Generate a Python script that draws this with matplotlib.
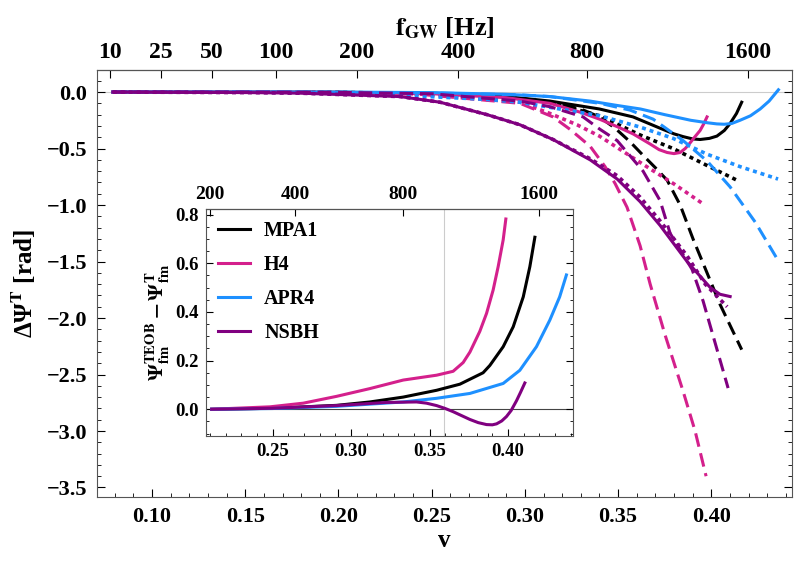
import numpy as np
import matplotlib
matplotlib.use('Agg')
import matplotlib.pyplot as plt
from matplotlib.ticker import MultipleLocator, NullLocator

plt.rcParams['font.family'] = ['Liberation Serif', 'DejaVu Serif']
plt.rcParams['font.weight'] = 'bold'
plt.rcParams['axes.labelweight'] = 'bold'
plt.rcParams['mathtext.fontset'] = 'stix'
plt.rcParams['mathtext.default'] = 'bf'

# colours per EOS
c_mpa1 = '#000000'
c_h4 = '#d4208c'
c_apr4 = '#1e90ff'
c_nsbh = '#800080'

# main panel: Delta Psi^T vs v (solid / dashed / dotted for each EOS)
mpa1_solid_v = [0.079, 0.15, 0.20, 0.25, 0.29, 0.3135, 0.340, 0.358, 0.3725, 0.380, 0.385, 0.390, 0.394, 0.399, 0.403, 0.407, 0.410, 0.4135, 0.4163]
mpa1_solid_d = [0, 0, -0.002, -0.01, -0.04, -0.08, -0.15, -0.22, -0.32, -0.37, -0.395, -0.415, -0.42, -0.41, -0.39, -0.34, -0.28, -0.19, -0.09]
mpa1_dot_v = [0.079, 0.15, 0.20, 0.25, 0.2974, 0.3135, 0.340, 0.3618, 0.3795, 0.3977, 0.4137]
mpa1_dot_d = [0, 0, -0.003, -0.015, -0.06, -0.09, -0.21, -0.38, -0.50, -0.65, -0.78]
mpa1_dash_v = [0.079, 0.15, 0.20, 0.25, 0.2974, 0.3135, 0.330, 0.340, 0.3484, 0.3564, 0.3634, 0.370, 0.3763, 0.3833, 0.3902, 0.3977, 0.4047, 0.4163]
mpa1_dash_d = [0, 0, -0.003, -0.015, -0.06, -0.09, -0.15, -0.22, -0.32, -0.44, -0.56, -0.67, -0.78, -1.0, -1.3, -1.6, -1.88, -2.28]

h4_solid_v = [0.079, 0.15, 0.20, 0.25, 0.29, 0.3135, 0.330, 0.340, 0.350, 0.358, 0.3672, 0.372, 0.3763, 0.380, 0.3833, 0.386, 0.3886, 0.391, 0.394, 0.396, 0.3977]
h4_solid_d = [0, 0, -0.003, -0.015, -0.05, -0.10, -0.18, -0.24, -0.31, -0.37, -0.46, -0.51, -0.535, -0.545, -0.535, -0.50, -0.45, -0.40, -0.34, -0.28, -0.22]
h4_dot_v = [0.079, 0.15, 0.20, 0.2438, 0.2974, 0.3135, 0.328, 0.340, 0.3672, 0.3806, 0.3956]
h4_dot_d = [0, 0, -0.005, -0.02, -0.09, -0.19, -0.29, -0.39, -0.68, -0.82, -0.99]
h4_dash_v = [0.079, 0.15, 0.20, 0.2438, 0.2974, 0.3151, 0.3242, 0.335, 0.343, 0.3484, 0.3548, 0.3618, 0.3672, 0.3752, 0.3849, 0.3913, 0.3972]
h4_dash_d = [0, 0, -0.005, -0.02, -0.10, -0.22, -0.33, -0.48, -0.66, -0.81, -1.02, -1.36, -1.70, -2.15, -2.65, -3.0, -3.40]

apr4_solid_v = [0.079, 0.20, 0.25, 0.29, 0.3135, 0.335, 0.35, 0.362, 0.375, 0.389, 0.398, 0.403, 0.407, 0.411, 0.4154, 0.421, 0.4262, 0.431, 0.436]
apr4_solid_d = [0, 0, -0.005, -0.02, -0.04, -0.08, -0.12, -0.15, -0.20, -0.25, -0.272, -0.282, -0.285, -0.278, -0.25, -0.21, -0.15, -0.08, 0.02]
apr4_dash_v = [0.079, 0.15, 0.20, 0.25, 0.2974, 0.3135, 0.3403, 0.3564, 0.3688, 0.3849, 0.3977, 0.4101, 0.4235, 0.4358]
apr4_dash_d = [0, 0, -0.002, -0.008, -0.025, -0.04, -0.10, -0.16, -0.24, -0.43, -0.61, -0.84, -1.15, -1.49]
apr4_dot_v = [0.079, 0.15, 0.2062, 0.233, 0.2545, 0.2797, 0.2974, 0.3151, 0.3403, 0.3618, 0.3795, 0.3977, 0.4154, 0.4358]
apr4_dot_d = [0, 0, -0.01, -0.027, -0.045, -0.065, -0.09, -0.14, -0.21, -0.31, -0.41, -0.55, -0.66, -0.77]

nsbh_solid_v = [0.079, 0.1526, 0.1794, 0.2062, 0.233, 0.2438, 0.2545, 0.2797, 0.2974, 0.3151, 0.335, 0.3495, 0.3618, 0.3725, 0.387, 0.3994, 0.4047, 0.4101]
nsbh_solid_d = [0, -0.005, -0.01, -0.025, -0.04, -0.065, -0.09, -0.20, -0.29, -0.42, -0.60, -0.77, -0.97, -1.18, -1.50, -1.73, -1.79, -1.81]
nsbh_dot_v = [0.079, 0.1526, 0.1794, 0.2062, 0.233, 0.2438, 0.2545, 0.2797, 0.2974, 0.3151, 0.335, 0.3495, 0.3618, 0.3725, 0.387, 0.3967, 0.4085]
nsbh_dot_d = [0, -0.005, -0.01, -0.025, -0.04, -0.065, -0.09, -0.20, -0.29, -0.42, -0.59, -0.74, -0.93, -1.14, -1.45, -1.70, -1.90]
nsbh_dash_v = [0.079, 0.15, 0.20, 0.25, 0.2974, 0.3135, 0.3312, 0.3403, 0.3495, 0.3634, 0.3725, 0.3779, 0.3897, 0.3956, 0.409]
nsbh_dash_d = [0, 0, -0.003, -0.015, -0.08, -0.13, -0.22, -0.33, -0.43, -0.70, -0.96, -1.25, -1.57, -1.85, -2.62]

# inset: Psi_fm^TEOB - Psi_fm^T
in_mpa1_v = [0.2111, 0.25, 0.2907, 0.312, 0.3332, 0.3545, 0.3693, 0.3841, 0.3884, 0.3969, 0.4033, 0.4097, 0.4139, 0.4171]
in_mpa1_d = [0, 0.004, 0.016, 0.03, 0.05, 0.078, 0.103, 0.15, 0.18, 0.257, 0.339, 0.462, 0.586, 0.707]
in_h4_v = [0.2111, 0.2483, 0.2695, 0.2907, 0.312, 0.3332, 0.3545, 0.365, 0.3714, 0.3757, 0.382, 0.3863, 0.3905, 0.3937, 0.3969, 0.3986]
in_h4_d = [0, 0.01, 0.025, 0.053, 0.085, 0.12, 0.14, 0.156, 0.192, 0.235, 0.32, 0.394, 0.49, 0.586, 0.696, 0.782]
in_apr4_v = [0.2111, 0.25, 0.2907, 0.3332, 0.3545, 0.3757, 0.3969, 0.4075, 0.4181, 0.4266, 0.4329, 0.4372]
in_apr4_d = [0, 0.003, 0.012, 0.03, 0.045, 0.065, 0.106, 0.16, 0.257, 0.366, 0.462, 0.552]
in_nsbh_v = [0.2111, 0.25, 0.2907, 0.3226, 0.3417, 0.348, 0.3545, 0.360, 0.365, 0.370, 0.3757, 0.381, 0.3863, 0.390, 0.3927, 0.396, 0.399, 0.402, 0.4054, 0.408, 0.4107]
in_nsbh_d = [0, 0.004, 0.015, 0.028, 0.03, 0.025, 0.015, 0.003, -0.01, -0.025, -0.042, -0.055, -0.063, -0.064, -0.06, -0.048, -0.03, -0.005, 0.035, 0.07, 0.108]

freq_ticks_main = [10, 25, 50, 100, 200, 400, 800, 1600]
freq_ticks_inset = [200, 400, 800, 1600]

k = 4.62e-5  # v^3 = k * f


def v_to_f(v):
    v = np.asarray(v, dtype=float)
    return np.sign(v) * np.abs(v) ** 3 / k


def f_to_v(f):
    f = np.asarray(f, dtype=float)
    return np.cbrt(k * f)


dash = (0, (4.5, 2.2))
dot = (0, (1.1, 1.1))
lw = 2.2

fig = plt.figure(figsize=(8.05, 5.61), dpi=100)
ax = fig.add_axes([0.1205, 0.1141, 0.8634, 0.7611])

ax.axhline(0, color='#cccccc', lw=0.8, zorder=0)

curves = [
    (mpa1_solid_v, mpa1_solid_d, c_mpa1, '-'),
    (mpa1_dash_v, mpa1_dash_d, c_mpa1, dash),
    (mpa1_dot_v, mpa1_dot_d, c_mpa1, dot),
    (h4_solid_v, h4_solid_d, c_h4, '-'),
    (h4_dash_v, h4_dash_d, c_h4, dash),
    (h4_dot_v, h4_dot_d, c_h4, dot),
    (apr4_solid_v, apr4_solid_d, c_apr4, '-'),
    (apr4_dash_v, apr4_dash_d, c_apr4, dash),
    (apr4_dot_v, apr4_dot_d, c_apr4, dot),
    (nsbh_solid_v, nsbh_solid_d, c_nsbh, '-'),
    (nsbh_dash_v, nsbh_dash_d, c_nsbh, dash),
    (nsbh_dot_v, nsbh_dot_d, c_nsbh, dot),
]
for xv, yv, col, ls in curves:
    ax.plot(xv, yv, color=col, ls=ls, lw=lw if ls != dot else 2.6)

ax.set_xlim(0.0705, 0.4433)
ax.set_ylim(-3.584, 0.195)
ax.xaxis.set_major_locator(MultipleLocator(0.05))
ax.xaxis.set_minor_locator(MultipleLocator(0.01))
ax.yaxis.set_major_locator(MultipleLocator(0.5))
ax.yaxis.set_minor_locator(MultipleLocator(0.1))
ax.tick_params(which='both', direction='in', right=True, top=False, labelsize=16, pad=7)
ax.tick_params(which='major', length=6)
ax.tick_params(which='minor', length=3)
ax.set_xlabel('v', fontsize=18, labelpad=2)
ax.set_ylabel('ΔΨ$^{\\mathbf{T}}$ [rad]', fontsize=18, labelpad=6)
for s in ax.spines.values():
    s.set_color('#555555')

top = ax.secondary_xaxis('top', functions=(v_to_f, f_to_v))
top.set_xticks(freq_ticks_main)
top.set_xticklabels([str(f) for f in freq_ticks_main])
top.tick_params(direction='in', length=6, labelsize=17, pad=5)
top.xaxis.set_minor_locator(NullLocator())
top.set_xlabel('$\\mathbf{f_{GW}}$ [Hz]', fontsize=19, labelpad=5)

# inset
ins = fig.add_axes([0.2555, 0.2228, 0.4563, 0.4046])
ins.axhline(0, color='#444444', lw=0.8, zorder=0)
ins.axvline(0.359, color='#cccccc', lw=0.8, zorder=0)
ins.plot(in_mpa1_v, in_mpa1_d, color=c_mpa1, lw=lw, label='MPA1')
ins.plot(in_h4_v, in_h4_d, color=c_h4, lw=lw, label='H4')
ins.plot(in_apr4_v, in_apr4_d, color=c_apr4, lw=lw, label='APR4')
ins.plot(in_nsbh_v, in_nsbh_d, color=c_nsbh, lw=lw, label='NSBH')
ins.set_xlim(0.2073, 0.4414)
ins.set_ylim(-0.11, 0.823)
ins.xaxis.set_major_locator(MultipleLocator(0.05))
ins.xaxis.set_minor_locator(MultipleLocator(0.01))
ins.yaxis.set_major_locator(MultipleLocator(0.2))
ins.yaxis.set_minor_locator(MultipleLocator(0.05))
ins.tick_params(which='both', direction='in', right=True, top=False, labelsize=13.5, pad=5)
ins.tick_params(which='major', length=5)
ins.tick_params(which='minor', length=2.5)
ins.set_ylabel('$\\Psi_{\\mathbf{fm}}^{\\mathbf{TEOB}} - \\Psi_{\\mathbf{fm}}^{T}$', fontsize=15, labelpad=2)
for s in ins.spines.values():
    s.set_color('#555555')
ins.legend(loc='upper left', frameon=False, fontsize=14.5, handlelength=1.6,
           handletextpad=0.7, borderaxespad=0.2, labelspacing=0.7)

itop = ins.secondary_xaxis('top', functions=(v_to_f, f_to_v))
itop.set_xticks(freq_ticks_inset)
itop.set_xticklabels([str(f) for f in freq_ticks_inset])
itop.tick_params(direction='in', length=5, labelsize=14, pad=4)
itop.xaxis.set_minor_locator(NullLocator())

fig.savefig('out.png', dpi=100)
